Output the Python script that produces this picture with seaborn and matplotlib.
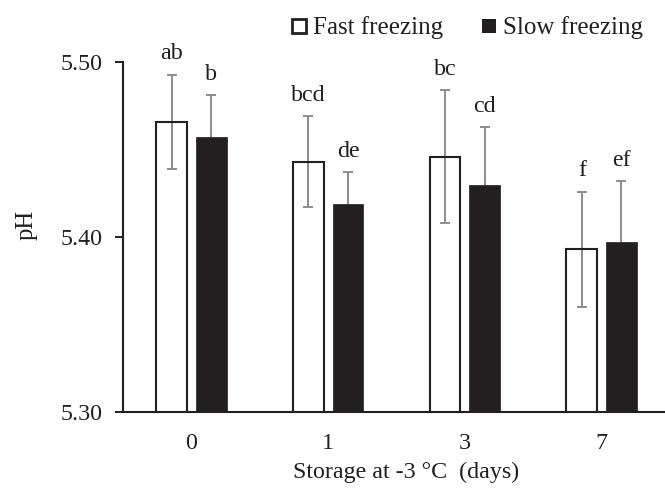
import matplotlib
matplotlib.use("Agg")
import matplotlib.pyplot as plt
from matplotlib.lines import Line2D
import seaborn as sns
import pandas as pd
import numpy as np

days = ["0", "1", "3", "7"]
fast_mean = [5.466, 5.443, 5.446, 5.393]
fast_sd = [0.027, 0.026, 0.038, 0.033]
slow_mean = [5.457, 5.419, 5.430, 5.397]
slow_sd = [0.024, 0.018, 0.033, 0.035]
fast_letters = ["ab", "bcd", "bc", "f"]
slow_letters = ["b", "de", "cd", "ef"]
methods = ["Fast freezing", "Slow freezing"]
yticks = [5.30, 5.40, 5.50]

sns.set_style("white")
plt.rcParams["font.family"] = ["Liberation Serif", "DejaVu Serif"]
plt.rcParams["text.color"] = "#231f20"

FS = 17.3

df = pd.DataFrame({
    "day": days * 2,
    "pH": fast_mean + slow_mean,
    "sd": fast_sd + slow_sd,
    "letter": fast_letters + slow_letters,
    "method": [methods[0]] * 4 + [methods[1]] * 4,
})

fig = plt.figure(figsize=(6.65, 4.88), dpi=100)
ax = fig.add_axes([123 / 665, 1 - 411.7 / 488, 547 / 665, (411.7 - 62.3) / 488])

sns.barplot(data=df, x="day", y="pH", hue="method", order=days, hue_order=methods,
            palette={methods[0]: "white", methods[1]: "#231f20"},
            width=0.58, gap=0.226, errorbar=None, legend=False, ax=ax)

bar_containers = list(ax.containers)[:2]
for ci, cont in enumerate(bar_containers):
    sub = df[df["method"] == methods[ci]].reset_index(drop=True)
    xs = []
    for bar in cont:
        bar.set_zorder(2)
        if ci == 0:
            bar.set_facecolor((1, 1, 1, 0))
            bar.set_edgecolor("#231f20")
            bar.set_linewidth(1.5)
        else:
            bar.set_facecolor("#231f20")
            bar.set_edgecolor("#231f20")
            bar.set_linewidth(0.5)
        xs.append(bar.get_x() + bar.get_width() / 2)
    ax.errorbar(xs, sub["pH"], yerr=sub["sd"], fmt="none", ecolor="#8c8c8c",
                elinewidth=1.4, capsize=3.3, capthick=1.4, zorder=1)
    for x, m, s, lab in zip(xs, sub["pH"], sub["sd"], sub["letter"]):
        ax.annotate(lab, (x, m + s), xytext=(0, 11), textcoords="offset points",
                    ha="center", va="baseline", fontsize=FS, color="#231f20")

ax.set_ylim(5.30, 5.50)
ax.set_xlim(-0.5, 3.5)
ax.set_yticks(yticks)
ax.set_yticklabels([f"{v:.2f}" for v in yticks])
ax.tick_params(axis="y", direction="out", length=6, width=1.4, pad=9, labelsize=FS,
               color="#231f20", labelcolor="#231f20", left=True)
ax.tick_params(axis="x", length=0, pad=15, labelsize=FS, labelcolor="#231f20")
for sp in ["top", "right"]:
    ax.spines[sp].set_visible(False)
for sp in ["left", "bottom"]:
    ax.spines[sp].set_color("#231f20")
    ax.spines[sp].set_linewidth(1.5)

ax.set_ylabel("pH", fontsize=FS + 0.5, color="#231f20")
ax.set_xlabel("Storage at -3 °C  (days)", fontsize=FS, color="#231f20")
ax.yaxis.set_label_coords((27 - 123) / 547, (411.7 - 225) / 349.4)
ax.xaxis.set_label_coords((406 - 123) / 547, -(472 - 411.7) / 349.4)
ax.xaxis.label.set_va("center")
ax.yaxis.label.set_va("center")

handles = [
    Line2D([], [], marker="s", linestyle="none", markersize=9.5, markerfacecolor="white",
           markeredgecolor="#231f20", markeredgewidth=2),
    Line2D([], [], marker="s", linestyle="none", markersize=10.5, markerfacecolor="#231f20",
           markeredgecolor="#231f20", markeredgewidth=0),
]
fig.legend(handles, methods, loc="center right", bbox_to_anchor=(643 / 665, 1 - 28 / 488),
           ncol=2, frameon=False, fontsize=18, handlelength=0.6, handletextpad=0.25,
           columnspacing=1.55, borderaxespad=0, borderpad=0)

fig.savefig("out.png", dpi=100)
